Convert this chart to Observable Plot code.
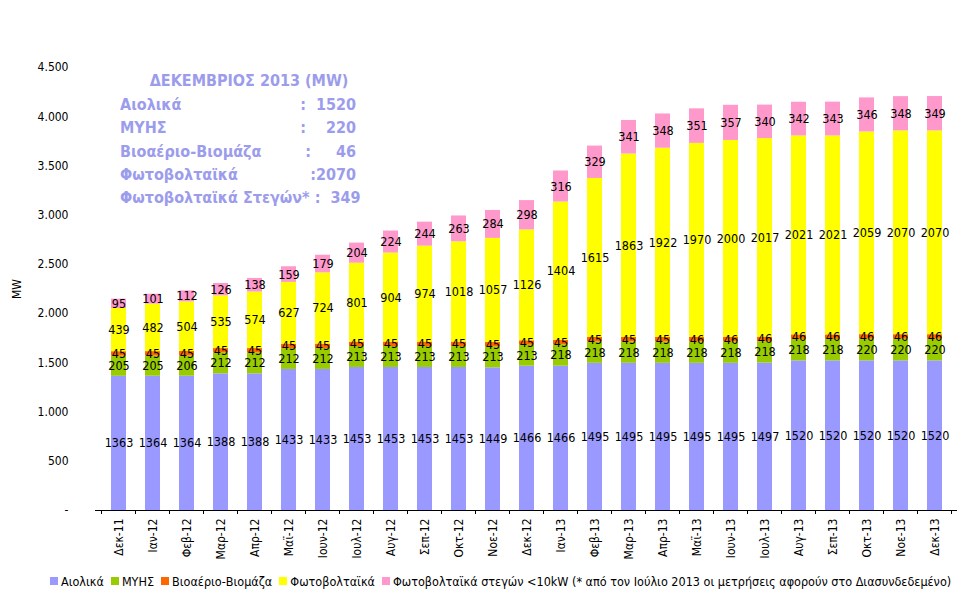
<!DOCTYPE html>
<html>
<head>
<meta charset="utf-8">
<script src="https://cdn.jsdelivr.net/npm/d3@7"></script>
<script src="https://cdn.jsdelivr.net/npm/@observablehq/plot@0.6"></script>
<style>
  html, body { margin: 0; padding: 0; background: white; overflow: hidden; }
  #wrap { position: relative; width: 977px; height: 601px; font-family: "DejaVu Sans Condensed", "DejaVu Sans", sans-serif; }
  #summary { position: absolute; left: 120px; top: 71px; width: 236px; color: #9c9cec; font-weight: bold; font-size: 16px; }
  #summary .t { text-align: center; padding-left: 22px; height: 24px; }
  #summary .r { display: flex; justify-content: space-between; height: 23.3px; white-space: pre; }
  #legend { display: flex; align-items: center; padding-left: 50px; font-size: 12.5px; color: #000; height: 38px; }
  #legend .it { display: flex; align-items: center; margin-right: 7px; white-space: nowrap; }
  #legend .sw { width: 8px; height: 8px; margin-right: 3px; }
</style>
</head>
<body>
<div id="wrap">
  <div id="chart"></div>
  <div id="legend"></div>
  <div id="summary"></div>
</div>
<script>
const months = ["Δεκ-11","Ιαν-12","Φεβ-12","Μαρ-12","Απρ-12","Μαϊ-12","Ιουν-12","Ιουλ-12","Αυγ-12","Σεπ-12","Οκτ-12","Νοε-12","Δεκ-12","Ιαν-13","Φεβ-13","Μαρ-13","Απρ-13","Μαϊ-13","Ιουν-13","Ιουλ-13","Αυγ-13","Σεπ-13","Οκτ-13","Νοε-13","Δεκ-13"];
const series = ["Αιολικά","ΜΥΗΣ","Βιοαέριο-Βιομάζα","Φωτοβολταϊκά","Φωτοβολταϊκά στεγών <10kW (* από τον Ιούλιο 2013 οι μετρήσεις αφορούν στο Διασυνδεδεμένο)"];
const colors = ["#9999FF","#99CC00","#FF6600","#FFFF00","#FF99CC"];
const wind  = [1363,1364,1364,1388,1388,1433,1433,1453,1453,1453,1453,1449,1466,1466,1495,1495,1495,1495,1495,1497,1520,1520,1520,1520,1520];
const myhs  = [205,205,206,212,212,212,212,213,213,213,213,213,213,218,218,218,218,218,218,218,218,218,220,220,220];
const bio   = [45,45,45,45,45,45,45,45,45,45,45,45,45,45,45,45,45,46,46,46,46,46,46,46,46];
const pv    = [439,482,504,535,574,627,724,801,904,974,1018,1057,1126,1404,1615,1863,1922,1970,2000,2017,2021,2021,2059,2070,2070];
const roof  = [95,101,112,126,138,159,179,204,224,244,263,284,298,316,329,341,348,351,357,340,342,343,346,348,349];
const yTicks = [0,500,1000,1500,2000,2500,3000,3500,4000,4500];
const summaryTitle = "ΔΕΚΕΜΒΡΙΟΣ 2013 (MW)";
const summaryNames = ["Αιολικά","ΜΥΗΣ","Βιοαέριο-Βιομάζα","Φωτοβολταϊκά","Φωτοβολταϊκά Στεγών*"];
const summaryValues = [":  1520",":    220",":     46",":2070"," :  349"];

const valuesBySeries = [wind, myhs, bio, pv, roof];
const rows = [];
months.forEach((m, i) => {
  series.forEach((s, k) => rows.push({month: m, series: s, value: valuesBySeries[k][i]}));
});

const fmtY = d => d === 0 ? "-" : d3.format(",")(d).replace(/,/g, ".");

const boundaryTicks = (index, scales, values, dims) => {
  const x = scales.x;
  const step = x(months[1]) - x(months[0]);
  const bw = typeof x.bandwidth === "function" ? x.bandwidth() : step * 0.44;
  const y0 = dims.height - dims.marginBottom;
  const b = months.map(m => x(m) + bw / 2 - step / 2);
  b.push(x(months[months.length - 1]) + bw / 2 + step / 2);
  const g = d3.create("svg:g").attr("stroke", "#000").attr("shape-rendering", "crispEdges");
  g.selectAll("line").data(b).join("line")
    .attr("x1", d => d).attr("x2", d => d)
    .attr("y1", y0).attr("y2", y0 + 4);
  return g.node();
};

const chart = Plot.plot({
  width: 977,
  height: 562,
  marginLeft: 95,
  marginRight: 20,
  marginTop: 67,
  marginBottom: 52,
  style: {fontFamily: "'DejaVu Sans Condensed', 'DejaVu Sans', sans-serif", fontSize: "12px", color: "#000", background: "white"},
  x: {domain: months, paddingInner: 0.56, paddingOuter: 0.28, label: null},
  y: {domain: [0, 4500], label: "MW"},
  color: {domain: series, range: colors},
  marks: [
    Plot.barY(rows, {x: "month", y: "value", fill: "series"}),
    Plot.text(rows, Plot.stackY({x: "month", y: "value", z: "series", text: d => String(d.value), fontSize: 12.5, fill: "#000"})),
    Plot.ruleY([0], {stroke: "#000"}),
    boundaryTicks,
    Plot.axisY({ticks: yTicks, tickSize: 0, tickPadding: 27, tickFormat: fmtY, label: "MW", labelAnchor: "center", labelOffset: 83, labelArrow: "none", fontSize: 12}),
    Plot.axisX({tickSize: 0, tickRotate: -90, tickPadding: 8, label: null, fontSize: 12})
  ]
});
document.getElementById("chart").appendChild(chart);

const legend = document.getElementById("legend");
series.forEach((s, k) => {
  const it = document.createElement("div");
  it.className = "it";
  const sw = document.createElement("span");
  sw.className = "sw";
  sw.style.background = colors[k];
  const tx = document.createElement("span");
  tx.textContent = s;
  it.appendChild(sw); it.appendChild(tx);
  legend.appendChild(it);
});

const sum = document.getElementById("summary");
const t = document.createElement("div");
t.className = "t"; t.textContent = summaryTitle;
sum.appendChild(t);
summaryNames.forEach((n, i) => {
  const r = document.createElement("div");
  r.className = "r";
  const a = document.createElement("span"); a.textContent = n;
  const b = document.createElement("span"); b.textContent = summaryValues[i];
  r.appendChild(a); r.appendChild(b);
  sum.appendChild(r);
});
</script>
</body>
</html>
